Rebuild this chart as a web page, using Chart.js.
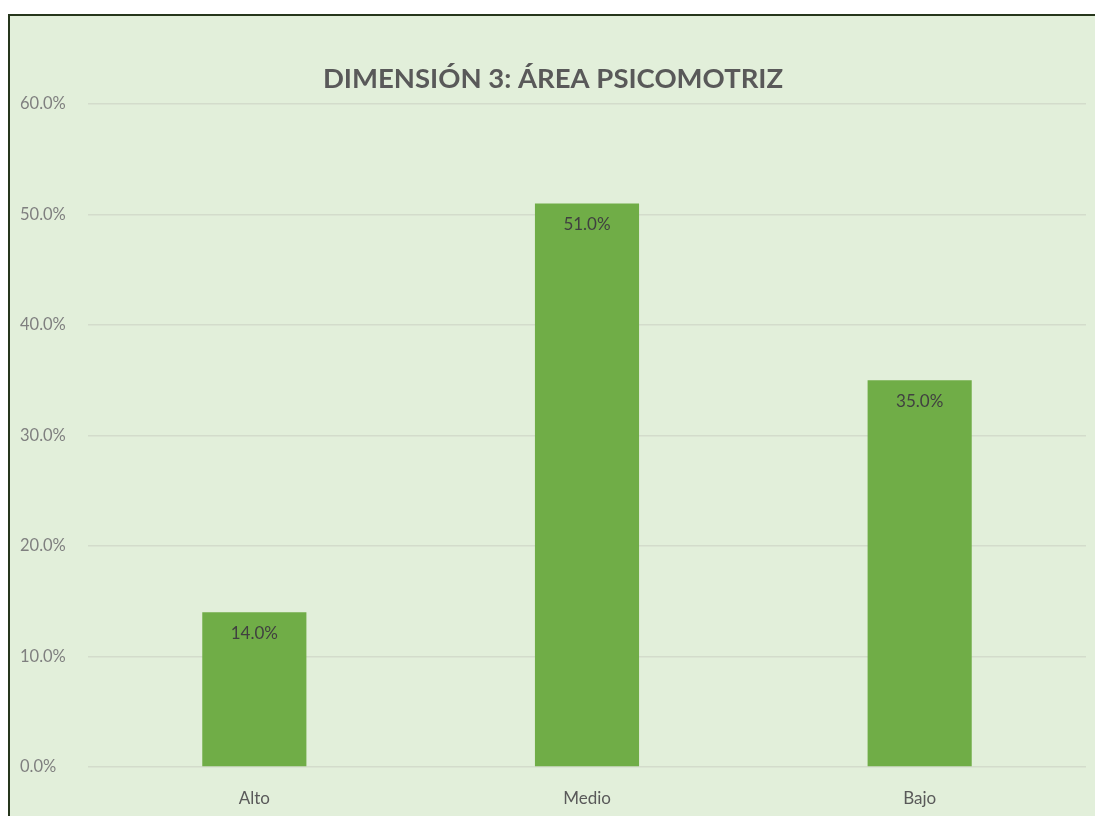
<!DOCTYPE html>
<html>
<head>
<meta charset="utf-8">
<script src="https://cdn.jsdelivr.net/npm/chart.js@4"></script>
<style>
  html, body { margin: 0; padding: 0; background: #ffffff; width: 1095px; height: 816px; overflow: hidden; }
  #box {
    position: absolute; left: 8px; top: 14px; width: 1087px; height: 802px;
    border-left: 2px solid #26361c; border-top: 2px solid #26361c;
    background: #e2efda;
  }
  #wrap { position: absolute; left: 0; top: 0; width: 1085px; height: 800px; }
</style>
</head>
<body>
<div id="box"><div id="wrap"><canvas id="chart"></canvas></div></div>
<script>
const categories = ["Alto", "Medio", "Bajo"];
const values = [14.0, 51.0, 35.0];
const yTicks = [0, 10, 20, 30, 40, 50, 60];
const chartTitle = "DIMENSIÓN 3: ÁREA PSICOMOTRIZ";

// draws the value inside each bar, near its top
const barLabels = {
    id: "barLabels",
    afterDatasetsDraw(chart) {
        const ctx = chart.ctx;
        const meta = chart.getDatasetMeta(0);
        ctx.save();
        ctx.font = "17px Lato";
        ctx.fillStyle = "#404040";
        ctx.textAlign = "center";
        ctx.textBaseline = "top";
        meta.data.forEach((bar, i) => {
            ctx.fillText(values[i].toFixed(1) + "%", bar.x, bar.y + 13);
        });
        ctx.restore();
    }
};

const ctx = document.getElementById("chart").getContext("2d");
new Chart(ctx, {
    type: "bar",
    data: {
        labels: categories,
        datasets: [{
            data: values,
            backgroundColor: "#70ad47",
            borderWidth: 0,
            categoryPercentage: 1,
            barPercentage: 0.313
        }]
    },
    options: {
        responsive: true,
        maintainAspectRatio: false,
        animation: false,
        layout: { padding: { left: 10, right: 9, top: 0, bottom: 0 } },
        plugins: {
            legend: { display: false },
            tooltip: { enabled: false },
            title: {
                display: true,
                text: chartTitle,
                color: "#595959",
                font: { family: "Lato", size: 27.5, weight: "bold" },
                padding: { top: 47, bottom: 8 }
            }
        },
        scales: {
            x: {
                grid: { display: false },
                border: { display: false },
                ticks: { color: "#595959", font: { family: "Lato", size: 17 }, padding: 13 },
                afterFit(scale) { scale.height = 49; }
            },
            y: {
                min: 0,
                max: 60,
                afterBuildTicks(scale) { scale.ticks = yTicks.map(v => ({ value: v })); },
                grid: { color: "#d3dccb", lineWidth: 1.5, drawTicks: false },
                border: { display: false },
                ticks: {
                    color: "#7f7f7f",
                    font: { family: "Lato", size: 16.5 },
                    crossAlign: "far",
                    callback: v => v.toFixed(1) + "%"
                },
                afterFit(scale) { scale.width = 68; }
            }
        }
    },
    plugins: [barLabels]
});
</script>
</body>
</html>
